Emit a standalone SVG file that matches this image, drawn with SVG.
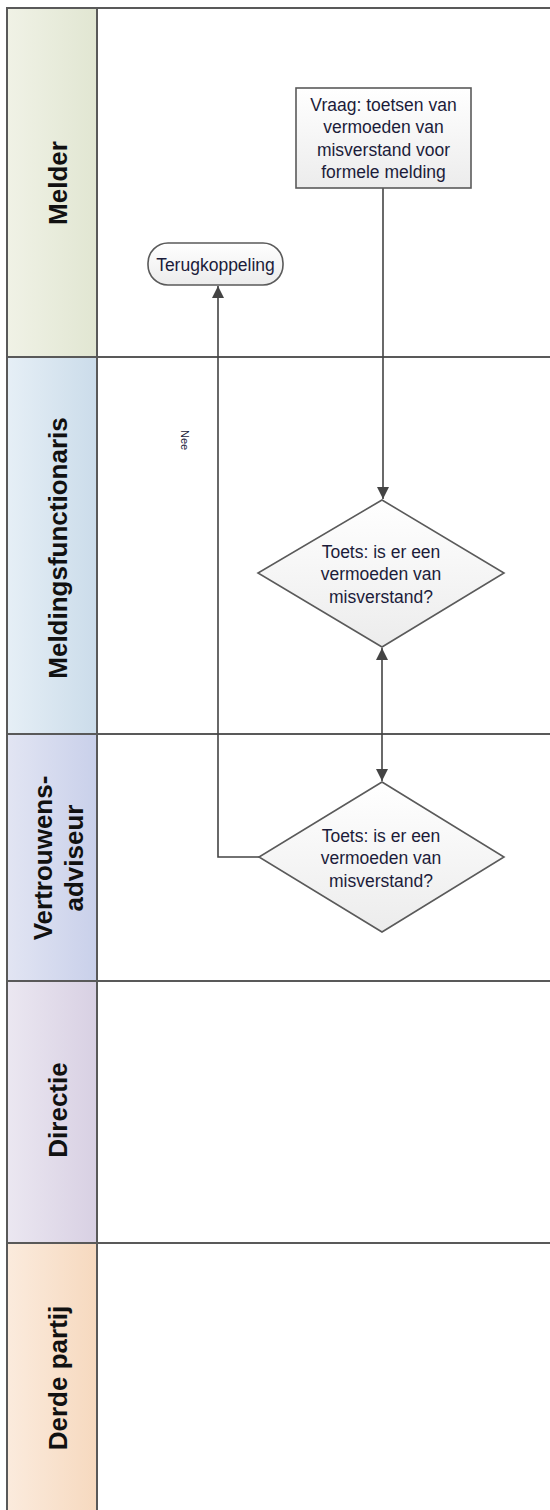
<svg xmlns="http://www.w3.org/2000/svg" width="550" height="1510" viewBox="0 0 550 1510">
<defs>
<linearGradient id="gMel" x1="0" y1="0" x2="1" y2="0"><stop offset="0" stop-color="#f0f2e6"/><stop offset="1" stop-color="#e1e6d2"/></linearGradient>
<linearGradient id="gMf" x1="0" y1="0" x2="1" y2="0"><stop offset="0" stop-color="#e6eff6"/><stop offset="1" stop-color="#cbdcea"/></linearGradient>
<linearGradient id="gVa" x1="0" y1="0" x2="1" y2="0"><stop offset="0" stop-color="#e2e5f3"/><stop offset="1" stop-color="#c9d0ea"/></linearGradient>
<linearGradient id="gDi" x1="0" y1="0" x2="1" y2="0"><stop offset="0" stop-color="#ebe7f1"/><stop offset="1" stop-color="#d8d0e3"/></linearGradient>
<linearGradient id="gDp" x1="0" y1="0" x2="1" y2="0"><stop offset="0" stop-color="#fbebdd"/><stop offset="1" stop-color="#f6d9bf"/></linearGradient>
<linearGradient id="gNode" x1="0" y1="0" x2="0" y2="1"><stop offset="0" stop-color="#ffffff"/><stop offset="1" stop-color="#ececec"/></linearGradient>
<marker id="arr" viewBox="0 0 12 12" refX="12" refY="6" markerWidth="12" markerHeight="12" markerUnits="userSpaceOnUse" orient="auto-start-reverse"><path d="M0,0 L12,6 L0,12 Z" fill="#444"/></marker>
</defs>
<style>
.lane{stroke:#595959;stroke-width:2;fill:none}
.hdr{font-family:"Liberation Sans",Arial,sans-serif;font-weight:bold;font-size:26px;fill:#111;text-anchor:middle;dominant-baseline:central}
.node{fill:url(#gNode);stroke:#5a5a5a;stroke-width:1.6}
.t{font-family:"Liberation Sans",Arial,sans-serif;font-size:17.5px;fill:#1c1c3a;text-anchor:middle}
.con{stroke:#444;stroke-width:1.6;fill:none}
.lbl{font-family:"Liberation Sans",Arial,sans-serif;font-size:11px;fill:#1c1c3a}
</style>
<rect width="550" height="1510" fill="#ffffff"/>
<g id="lanes">
<rect x="7" y="8" width="90" height="349" fill="url(#gMel)"/>
<rect x="7" y="357" width="90" height="377" fill="url(#gMf)"/>
<rect x="7" y="734" width="90" height="247" fill="url(#gVa)"/>
<rect x="7" y="981" width="90" height="262" fill="url(#gDi)"/>
<rect x="7" y="1243" width="90" height="267" fill="url(#gDp)"/>
<line class="lane" x1="7" y1="8" x2="550" y2="8"/>
<line class="lane" x1="7" y1="357" x2="550" y2="357"/>
<line class="lane" x1="7" y1="734" x2="550" y2="734"/>
<line class="lane" x1="7" y1="981" x2="550" y2="981"/>
<line class="lane" x1="7" y1="1243" x2="550" y2="1243"/>
<line class="lane" x1="7" y1="7" x2="7" y2="1510"/>
<line class="lane" x1="97" y1="8" x2="97" y2="1510"/>
<text class="hdr" transform="translate(58,183) rotate(-90)">Melder</text>
<text class="hdr" transform="translate(58,548) rotate(-90)">Meldingsfunctionaris</text>
<text class="hdr" transform="translate(58,858) rotate(-90)"><tspan x="0" dy="-15">Vertrouwens-</tspan><tspan x="0" dy="31">adviseur</tspan></text>
<text class="hdr" transform="translate(58,1110) rotate(-90)">Directie</text>
<text class="hdr" transform="translate(58,1378) rotate(-90)">Derde partij</text>
</g>
<g id="connectors">
<line class="con" x1="383" y1="188" x2="383" y2="499" marker-end="url(#arr)"/>
<line class="con" x1="382" y1="648" x2="382" y2="781" marker-start="url(#arr)" marker-end="url(#arr)"/>
<polyline class="con" points="259,857 218,857 218,286" marker-end="url(#arr)"/>
<text class="lbl" transform="translate(181,430) rotate(90)">Nee</text>
</g>
<g id="n-vraag">
<rect class="node" x="296" y="88" width="175" height="100"/>
<text class="t" x="383.5" y="111">Vraag: toetsen van</text>
<text class="t" x="383.5" y="133">vermoeden van</text>
<text class="t" x="383.5" y="156">misverstand voor</text>
<text class="t" x="383.5" y="178">formele melding</text>
</g>
<g id="n-terug">
<rect class="node" x="148" y="243" width="135" height="42" rx="20" ry="20"/>
<text class="t" x="215.5" y="271">Terugkoppeling</text>
</g>
<g id="n-toets1">
<polygon class="node" points="382,500 504,573 382,647 258,573"/>
<text class="t" x="381" y="558">Toets: is er een</text>
<text class="t" x="381" y="580">vermoeden van</text>
<text class="t" x="381" y="603">misverstand?</text>
</g>
<g id="n-toets2">
<polygon class="node" points="382,782 504,857 382,932 259,857"/>
<text class="t" x="381" y="842">Toets: is er een</text>
<text class="t" x="381" y="864">vermoeden van</text>
<text class="t" x="381" y="887">misverstand?</text>
</g>
</svg>
